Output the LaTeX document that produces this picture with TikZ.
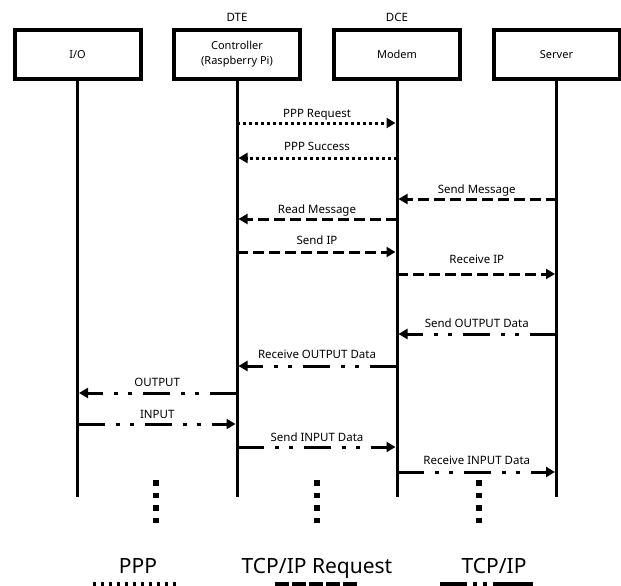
\documentclass[tikz,border=0pt]{standalone}
\usepackage{fontspec}
\setmainfont{Noto Sans}
\usetikzlibrary{arrows.meta}
\begin{document}
\begin{tikzpicture}[x=1pt,y=-1pt,
  box/.style={draw,line width=4pt,minimum width=126pt,minimum height=49pt,inner sep=0pt,align=center,font=\fontsize{11}{15}\selectfont},
  life/.style={line width=3pt},
  lbl/.style={font=\fontsize{11.5}{13}\selectfont,inner sep=0pt,anchor=base,midway,yshift=7pt},
  top/.style={font=\fontsize{11.5}{13}\selectfont,inner sep=0pt},
  msg/.style={line width=3pt,-{Triangle[length=9pt,width=10pt]},shorten >=1.5pt},
  ppp/.style={msg,dash pattern=on 3pt off 3pt},
  req/.style={msg,dash pattern=on 11pt off 5pt},
  tcp/.style={msg,dash pattern=on 27pt off 11pt on 4pt off 10pt on 4pt off 11pt},
  vdots/.style={line width=5.5pt,dash pattern=on 5.5pt off 7pt},
  legtxt/.style={font=\fontsize{21}{24}\selectfont,inner sep=0pt,anchor=base},
]
\useasboundingbox (0,0) rectangle (621,586);
\clip (0,0) rectangle (621,586);

% participants
\node[box] (io) at (77.5,54.5) {I/O};
\node[box] (ctrl) at (237,54.5) {Controller\\(Raspberry Pi)};
\node[box] (modem) at (397,54.5) {Modem};
\node[box] (server) at (556.5,54.5) {Server};
\node[top] (dte) at (237,17) {DTE};
\node[top] (dce) at (397,17) {DCE};

% lifelines
\coordinate (ioEnd) at (77.5,497);
\coordinate (ctrlEnd) at (237,497);
\coordinate (modemEnd) at (397,497);
\coordinate (serverEnd) at (556.5,497);
\draw[life] (io.south) -- (ioEnd);
\draw[life] (ctrl.south) -- (ctrlEnd);
\draw[life] (modem.south) -- (modemEnd);
\draw[life] (server.south) -- (serverEnd);

% messages
\draw[ppp] (ctrl |- 0,123) -- (modem |- 0,123) node[lbl,yshift=-1pt] {PPP Request};
\draw[ppp] (modem |- 0,158) -- (ctrl |- 0,158) node[lbl,yshift=1pt] {PPP Success};
\draw[req] (server |- 0,199) -- (modem |- 0,199) node[lbl,yshift=-1pt] {Send Message};
\draw[req] (modem |- 0,219) -- (ctrl |- 0,219) node[lbl,yshift=-1pt] {Read Message};
\draw[req] (ctrl |- 0,252) -- (modem |- 0,252) node[lbl,yshift=1pt] {Send IP};
\draw[req] (modem |- 0,274) -- (server |- 0,274) node[lbl,yshift=4pt] {Receive IP};
\draw[tcp] (server |- 0,334) -- (modem |- 0,334) node[lbl] {Send OUTPUT Data};
\draw[tcp] (modem |- 0,366) -- (ctrl |- 0,366) node[lbl,yshift=1pt] {Receive OUTPUT Data};
\draw[tcp] (ctrl |- 0,393) -- (io |- 0,393) node[lbl] {OUTPUT};
\draw[tcp] (io |- 0,424) -- (ctrl |- 0,424) node[lbl,yshift=-1pt] {INPUT};
\draw[tcp] (ctrl |- 0,447) -- (modem |- 0,447) node[lbl,yshift=-1pt] {Send INPUT Data};
\draw[tcp] (modem |- 0,472) -- (server |- 0,472) node[lbl,yshift=1pt] {Receive INPUT Data};

% continuation dots
\draw[vdots] (156,480.25) -- (156,524);
\draw[vdots] (317,480.25) -- (317,524);
\draw[vdots] (479,480.25) -- (479,524);

% legend
\node[legtxt] (lppp) at (138,573) {PPP};
\node[legtxt] (lreq) at (317,573) {TCP/IP Request};
\node[legtxt] (ltcp) at (494,573) {TCP/IP};
\draw[line width=8pt,dash pattern=on 3pt off 5pt] (93,586) -- (178,586);
\draw[line width=8pt,dash pattern=on 14pt off 3pt] (275,586) -- (357,586);
\draw[line width=8pt,dash pattern=on 27pt off 6pt on 4pt off 6pt on 4pt off 6pt on 40pt] (440,586) -- (535,586);
\end{tikzpicture}
\end{document}
